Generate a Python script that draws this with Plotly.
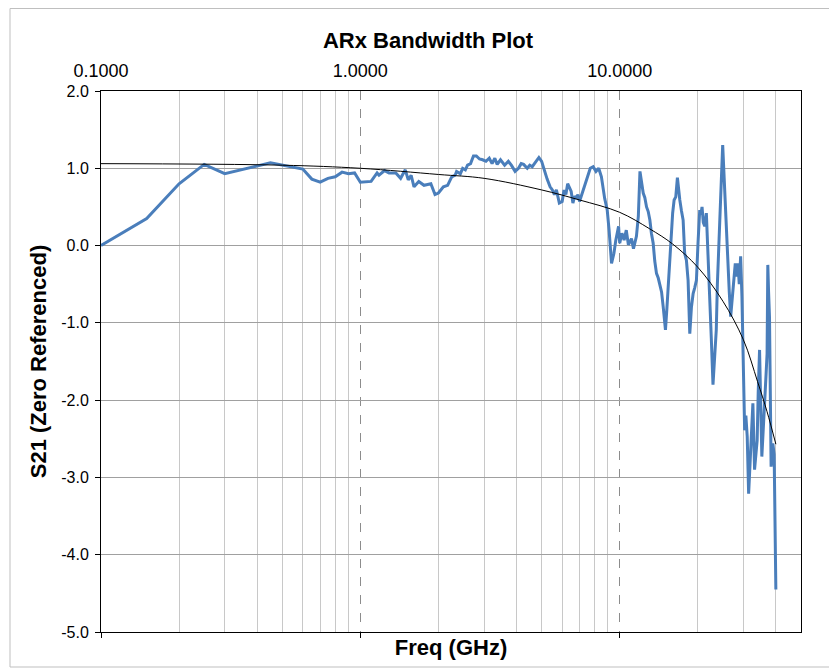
import plotly.graph_objects as go

# Measured S21 (zero referenced) vs frequency (GHz)
freq = [0.10, 0.15, 0.20, 0.25, 0.30, 0.45, 0.60, 0.65, 0.70, 0.75, 0.80, 0.85, 0.90, 0.95,
        1.00, 1.10, 1.16, 1.18, 1.24, 1.29, 1.37, 1.43, 1.49, 1.53, 1.57, 1.61, 1.68, 1.76,
        1.87, 1.94, 2.00, 2.09, 2.17, 2.25, 2.32, 2.35, 2.43, 2.48, 2.54, 2.59, 2.66, 2.73,
        2.80, 2.88, 2.96, 3.05, 3.14, 3.22, 3.30, 3.37, 3.47, 3.60, 3.72, 3.82, 3.95, 4.07,
        4.17, 4.26, 4.40, 4.50, 4.60, 4.74, 4.88, 5.00, 5.12, 5.25, 5.39, 5.50, 5.60, 5.70,
        5.85, 6.00, 6.10, 6.20, 6.30, 6.40, 6.50, 6.60, 6.70, 6.80, 6.90, 7.00, 7.20, 7.35,
        7.50, 7.70, 7.90, 8.10, 8.30, 8.50, 8.75, 8.95, 9.10, 9.30, 9.50, 9.66, 9.90, 10.0,
        10.2, 10.4, 10.6, 10.8, 11.1, 11.3, 11.6, 11.8, 11.97, 12.15, 12.32, 12.50, 12.69,
        12.88, 13.07, 13.25, 13.46, 13.65, 13.86, 14.08, 14.29, 14.50, 14.71, 15.01,
        15.20, 15.38, 15.60, 15.83, 16.00, 16.21, 16.45, 16.69, 16.85, 17.05, 17.30, 17.56,
        17.80, 18.08, 18.35, 18.63, 18.90, 19.19, 19.45, 19.76, 20.05, 20.35, 20.55, 20.77,
        21.00, 21.27, 21.58, 21.90, 22.23, 22.55, 22.89, 23.20, 23.57, 23.80, 24.08, 24.30,
        24.51, 24.95, 25.20, 25.53, 25.80, 26.14, 26.45, 26.78, 27.05, 27.33, 27.60, 27.90,
        28.20, 28.57, 28.90, 29.26, 29.60, 29.94, 30.32, 30.65, 31.02, 31.41, 31.96, 32.30,
        32.62, 33.11, 33.50, 33.88, 34.20, 34.61, 35.32, 35.95, 36.30, 36.69, 37.00, 37.24,
        37.50, 37.80, 38.35, 38.93, 39.40, 40.0]
s21 = [0.00, 0.35, 0.80, 1.05, 0.93, 1.07, 0.99, 0.86, 0.82, 0.87, 0.89, 0.95, 0.93, 0.94,
       0.82, 0.83, 0.94, 0.91, 0.97, 0.94, 0.94, 0.87, 0.98, 0.85, 0.91, 0.76, 0.83, 0.78,
       0.80, 0.66, 0.68, 0.76, 0.78, 0.89, 0.91, 0.96, 0.93, 1.00, 0.98, 1.04, 1.06, 1.16,
       1.16, 1.12, 1.11, 1.09, 1.13, 1.06, 1.13, 1.05, 1.11, 1.04, 1.09, 1.04, 0.96, 1.00,
       1.06, 1.05, 1.00, 1.04, 1.02, 1.09, 1.14, 1.09, 0.96, 0.86, 0.76, 0.72, 0.66, 0.72,
       0.55, 0.57, 0.72, 0.66, 0.80, 0.74, 0.70, 0.55, 0.64, 0.61, 0.66, 0.57, 0.70, 0.78,
       0.89, 1.00, 1.02, 0.96, 1.00, 0.89, 0.61, 0.46, 0.20, -0.23, -0.10, 0.07, 0.25, 0.03,
       0.16, 0.07, 0.20, 0.01, 0.09, -0.04, 0.12, 0.38, 0.96, 0.80, 0.68, 0.62, 0.50,
       0.44, 0.33, 0.16, 0.03, -0.20, -0.36, -0.42, -0.53, -0.60, -0.79, -1.09,
       -0.82, -0.53, -0.10, 0.16, 0.42, 0.59, 0.63, 0.88, 0.70, 0.59, 0.45, 0.33,
       -0.10, -0.19, -0.45, -1.14, -0.80, -0.62, -0.55, -0.45, 0.05, 0.46, 0.40, 0.50,
       0.30, 0.25, 0.42, -0.10, -0.53, -1.20, -1.80, -1.40, -1.09, -0.50, 0.07, 0.30,
       0.63, 1.30, 0.95, 0.63, 0.10, -0.40, -0.60, -0.92, -0.75, -0.66, -0.45, -0.23,
       -0.40, -0.23, -0.50, -0.14, -0.66, -1.61, -2.39, -2.20, -2.47, -3.21, -2.60, -2.30,
       -2.04, -2.90, -2.70, -2.52, -1.90, -1.35, -2.73, -2.30, -2.00, -1.65, -1.40, -0.25,
       -0.60, -0.92, -2.86, -2.56, -2.70, -4.45]

# Trend line
fit_freq = [0.1, 0.5, 1.0, 2.0, 3.0, 5.0, 7.0, 10.0, 13.0, 16.0, 20.0, 25.0, 30.0, 34.0, 37.0, 40.0]
fit_s21 = [1.06, 1.04, 1.00, 0.92, 0.87, 0.72, 0.59, 0.43, 0.22, 0.02, -0.28, -0.72, -1.22, -1.76, -2.15, -2.57]

major_ticks = [0.1, 1, 10]
major_labels = ["0.1000", "1.0000", "10.0000"]
minor_ticks = [0.2, 0.3, 0.4, 0.5, 0.6, 0.7, 0.8, 0.9, 2, 3, 4, 5, 6, 7, 8, 9, 20, 30, 40]
y_ticks = [-5, -4, -3, -2, -1, 0, 1, 2]
y_labels = ["%.1f" % v for v in y_ticks]

FONT = "Liberation Sans, Arial, sans-serif"
x_range = [-1, 1.699]

# page body has an 8px default margin: figure is sized to fill the window
W, H = 829, 662
ML, MR, MT, MB = 93, 36, 83, 38
PW, PH = W - ML - MR, H - MT - MB

fig = go.Figure()
fig.add_trace(go.Scatter(x=freq, y=s21, mode="lines",
                         line=dict(color="#4A7EBB", width=3), showlegend=False))
fig.add_trace(go.Scatter(x=fit_freq, y=fit_s21, mode="lines",
                         line=dict(color="black", width=1, shape="spline"), showlegend=False))
# invisible trace to activate the top label axis
fig.add_trace(go.Scatter(x=fit_freq, y=fit_s21, mode="lines", xaxis="x2",
                         line=dict(width=0), opacity=0, hoverinfo="skip", showlegend=False))

fig.update_layout(
    width=W, height=H,
    margin=dict(l=ML, r=MR, t=MT, b=MB, autoexpand=False),
    paper_bgcolor="white", plot_bgcolor="white",
    font=dict(family=FONT, color="black"),
    title=dict(text="<b>ARx Bandwidth Plot</b>", x=420 / W, xref="container", xanchor="center",
               y=1 - 32 / H, yref="container", yanchor="middle",
               font=dict(size=22, family=FONT, color="black")),
    xaxis=dict(type="log", range=x_range, tickmode="array", tickvals=major_ticks,
               showticklabels=False, ticks="outside", ticklen=5, tickcolor="black",
               showline=True, linecolor="black", linewidth=1, mirror=True,
               showgrid=True, gridcolor="#8C8C8C", griddash="dash", gridwidth=1,
               minor=dict(tickmode="array", tickvals=minor_ticks, showgrid=True,
                          gridcolor="#C8C8C8", gridwidth=1, griddash="solid", ticks=""),
               zeroline=False, automargin=False,
               title=dict(text="<b>Freq (GHz)</b>", standoff=2,
                          font=dict(size=22, family=FONT, color="black"))),
    xaxis2=dict(type="log", range=x_range, overlaying="x", side="top", anchor="y",
                tickmode="array", tickvals=major_ticks, ticktext=major_labels,
                showgrid=False, showline=False, ticks="", zeroline=False,
                automargin=False, ticklabelstandoff=9,
                tickfont=dict(size=18, family=FONT, color="black")),
    yaxis=dict(range=[-5, 2], tickmode="array", tickvals=y_ticks, ticktext=y_labels,
               ticks="outside", ticklen=5, tickcolor="black",
               showline=True, linecolor="black", linewidth=1, mirror=True,
               showgrid=True, gridcolor="#A0A0A0", gridwidth=1, zeroline=False,
               automargin=False, ticklabelstandoff=3,
               tickfont=dict(size=16, family=FONT, color="black"),
               title=dict(text="<b>S21 (Zero Referenced)</b>", standoff=8,
                          font=dict(size=22, family=FONT, color="black"))),
    shapes=[dict(type="rect", xref="paper", yref="paper",
                 x0=(2 - ML) / PW, x1=(827 - ML) / PW,
                 y0=(MT + PH - 659) / PH, y1=(MT + PH - 0.5) / PH,
                 line=dict(color="#BFBFBF", width=1), layer="below")],
)

fig.write_html("out.html")
